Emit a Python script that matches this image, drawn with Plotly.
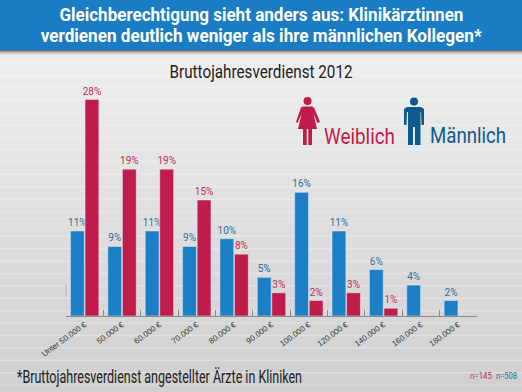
import json
import plotly.graph_objects as go

categories = ["Unter 50.000 €", "50.000 €", "60.000 €", "70.000 €", "80.000 €", "90.000 €",
              "100.000 €", "120.000 €", "140.000 €", "160.000 €", "180.000 €"]
maennlich = [11, 9, 11, 9, 10, 5, 16, 11, 6, 4, 2]
weiblich = [28, 19, 19, 15, 8, 3, 2, 3, 1, None, None]
title_lines = ["Gleichberechtigung sieht anders aus: Klinikärztinnen",
               "verdienen deutlich weniger als ihre männlichen Kollegen*"]
subtitle = "Bruttojahresverdienst 2012"
footnote = "*Bruttojahresverdienst angestellter Ärzte in Kliniken"

W, H = 522, 392
ML, MR, MT, MB = 66, 45, 60, 76
PW, PH = W - ML - MR, H - MT - MB
NARROW = "Roboto, Liberation Sans, sans-serif"
BLUE, RED = "#1a7fc4", "#c01c4b"
BLUE_T, RED_T = "#2f6f96", "#c22a5c"
DARK_BLUE = "#0f5a8c"


def px(x):
    return (x - ML) / PW


def py(y):
    return (H - MB - y) / PH


shapes = []


def rect(x0, y0, x1, y1, color):
    shapes.append(dict(type="rect", xref="paper", yref="paper", layer="below",
                       x0=px(x0), x1=px(x1), y0=py(y0), y1=py(y1),
                       fillcolor=color, line_width=0))


# background gradient
steps = 24
for i in range(steps):
    t = i / (steps - 1)
    v0, v1 = 238, 208
    v = round(v0 + (v1 - v0) * t)
    y0 = 50 + i * (H - 50) / steps
    y1 = 50 + (i + 1) * (H - 50) / steps + 1
    rect(0, y0, W, min(y1, H), f"rgb({v},{v},{v})")
# faint stripes
y = 62
while y < H:
    rect(0, y, W, y + 1.4, "rgba(255,255,255,0.28)")
    y += 12.4
# header + shadow
for i, c in enumerate(["#6f6f6f", "#9a9a9a", "#bcbcbc", "#d4d4d4", "#e2e2e2"]):
    rect(0, 50 + i, W, 51 + i, c)
rect(0, 0, W, 50, "#1a7dc3")
# faint vertical mark on the left of the plot
rect(65.5, 284, 66.5, 296, "#b5b5b5")


def path_shape(path, color):
    shapes.append(dict(type="path", xref="paper", yref="paper", path=path,
                       fillcolor=color, line_width=0, layer="above"))


def P(points):
    return "M " + " L ".join(f"{px(x):.5f},{py(y):.5f}" for x, y in points) + " Z"


def head(cx, cy, r, color):
    shapes.append(dict(type="circle", xref="paper", yref="paper", layer="above",
                       x0=px(cx - r), x1=px(cx + r), y0=py(cy + r), y1=py(cy - r),
                       fillcolor=color, line_width=0))


# woman icon
head(307.5, 101, 4, RED)
path_shape(P([(303, 106.5), (312, 106.5), (314, 107.5), (320, 122), (317.5, 123), (313.5, 114),
              (317, 129), (298, 129), (301.5, 114), (297.5, 123), (296, 122), (301, 107.5)]), RED)
path_shape(P([(303, 129), (306.7, 129), (306.7, 145), (303, 145)]), RED)
path_shape(P([(308.3, 129), (312, 129), (312, 145), (308.3, 145)]), RED)
# man icon
head(414, 101.5, 4, DARK_BLUE)
path_shape(P([(407, 107), (421, 107), (424, 109), (424, 125), (421.5, 125), (421, 112), (420.5, 112),
              (420.5, 145), (415, 145), (415, 127), (413, 127), (413, 145), (408, 145),
              (408, 112), (407, 112), (406.5, 125), (404, 125), (404, 109)]), DARK_BLUE)

fig = go.Figure()
fig.add_bar(name="Männlich", x=categories, y=maennlich, marker_color=BLUE,
            text=[f"{v}%" for v in maennlich], textposition="outside", cliponaxis=False,
            constraintext="none", textfont=dict(color=BLUE_T, size=10, family=NARROW))
fig.add_bar(name="Weiblich", x=categories, y=weiblich, marker_color=RED,
            text=[f"{v}%" if v is not None else "" for v in weiblich], textposition="outside",
            constraintext="none", cliponaxis=False, textfont=dict(color=RED_T, size=10, family=NARROW))

fitted = {}


def note(x, y, text, size, color, anchor="center", weight=None, fit=None):
    fig.add_annotation(xref="paper", yref="paper", x=px(x), y=py(y), text=text, showarrow=False,
                       xanchor=anchor, yanchor="middle", align=anchor,
                       font=dict(size=size, color=color, family=NARROW, weight=weight))
    if fit:
        fitted[text] = fit


note(261, 15, title_lines[0], 18.5, "white", weight="bold", fit=404)
note(261, 36, title_lines[1], 18.5, "white", weight="bold", fit=441)
note(261, 71, subtitle, 18, "#222222", fit=183)
note(322, 136, "Weiblich", 22, RED, "left", fit=71)
note(428, 135.5, "Männlich", 22, DARK_BLUE, "left", fit=76)
note(15, 376.5, footnote, 18, "#222222", "left", fit=285)
note(468, 376, "n=145", 9, RED_T, "left", fit=22)
note(494, 376, "n=508", 9, BLUE_T, "left", fit=21)

fig.update_layout(
    width=W, height=H, margin=dict(l=ML, r=MR, t=MT, b=MB),
    paper_bgcolor="#dddddd", plot_bgcolor="rgba(0,0,0,0)",
    barmode="group", bargap=0.22, bargroupgap=0.05, showlegend=False, shapes=shapes,
)
fig.update_xaxes(type="category", tickangle=-36, tickson="boundaries", ticks="inside", ticklen=6,
                 tickcolor="#8a8a8a", tickwidth=1, showline=True, linecolor="#8a8a8a", linewidth=1,
                 tickfont=dict(size=8, color="#333333", family="Liberation Sans, sans-serif"),
                 showgrid=False)
fig.update_yaxes(range=[0, PH / 7.73], visible=False, showgrid=False)

post = (
    "document.body.style.margin='0';document.body.style.overflow='hidden';"
    "var fit=" + json.dumps(fitted, ensure_ascii=False) + ";"
    "document.querySelectorAll('.annotation-text').forEach(function(t){"
    "var w=fit[t.textContent];if(w){t.setAttribute('textLength',w);"
    "t.setAttribute('lengthAdjust','spacingAndGlyphs');}});"
)
fig.write_html("out.html", post_script=post, config={"displayModeBar": False})
